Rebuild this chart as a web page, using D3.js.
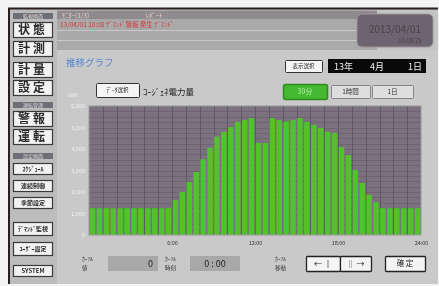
<!DOCTYPE html>
<html>
<head>
<meta charset="utf-8">
<script src="https://cdn.jsdelivr.net/npm/d3@7"></script>
<style>
  body { margin: 0; background: #fff; }
  svg { display: block; filter: blur(0.45px); }
  text { font-family: "Noto Sans CJK JP", "Noto Sans", sans-serif; }
</style>
</head>
<body>
<svg width="439" height="286"></svg>
<script>
// half-hour slots 0:00 .. 23:30
const slots = d3.range(48)
const power = [
  1250, 1250, 1250, 1250, 1250, 1250, 1250, 1250, 1250, 1250, 1250, 1250,
  1630, 2000, 2470, 2930, 3520, 4060, 4580, 4790, 5020, 5250, 5350, 5440,
  4280, 4280, 5440, 5350, 5260, 5350, 5440, 5260, 5120, 4980, 4790, 4740,
  4090, 3720, 3020, 2420, 1860, 1530, 1250, 1250, 1250, 1250, 1250, 1250
]
const yTicks = [0, 1000, 2000, 3000, 4000, 5000, 6000]
const hourTicks = [6, 12, 18, 24]
const menu = [
  { label: '状態', y: 22, h: 15, big: true },
  { label: '計測', y: 41, h: 15, big: true },
  { label: '計量', y: 62, h: 15, big: true },
  { label: '設定', y: 80, h: 15, big: true },
  { label: '警報', y: 111, h: 15, big: true },
  { label: '運転', y: 129, h: 15, big: true },
  { label: 'ｽｹｼﾞｭｰﾙ', y: 163, h: 11 },
  { label: '連続制御', y: 180, h: 11 },
  { label: '季節設定', y: 197, h: 11 },
  { label: 'ﾃﾞﾏﾝﾄﾞ監視', y: 222, h: 13 },
  { label: 'ﾕｰｻﾞｰ設定', y: 242, h: 13 },
  { label: 'SYSTEM', y: 265, h: 11 }
]
const menuHeads = [
  { label: '監視画面', y: 13 },
  { label: '運転管理', y: 102 },
  { label: '設定画面', y: 153 }
]
const periods = ['30分', '1時間', '1日']

const svg = d3.select('svg')

// frame
svg.append('rect').attr('x', 0).attr('y', 0).attr('width', 439).attr('height', 286).attr('fill', '#f4f4f4')
svg.append('rect').attr('x', 8).attr('y', 8).attr('width', 430).attr('height', 276).attr('fill', '#bcbcbc')
svg.append('line').attr('x1', 8).attr('x2', 438).attr('y1', 8.5).attr('y2', 8.5).attr('stroke', '#2a1e1e').attr('stroke-width', 2)
svg.append('line').attr('x1', 9).attr('x2', 9).attr('y1', 8).attr('y2', 284).attr('stroke', '#2a1e1e').attr('stroke-width', 2)

// left menu
const side = svg.append('g')
menuHeads.forEach(d => {
  side.append('rect').attr('x', 13).attr('y', d.y).attr('width', 40).attr('height', 6).attr('fill', '#6e6e76')
  side.append('text').attr('x', 33).attr('y', d.y + 5).attr('text-anchor', 'middle')
    .attr('font-size', 5).attr('fill', '#ddd').text(d.label)
})
menu.forEach(d => {
  side.append('rect').attr('x', 13.5).attr('y', d.y + 0.5).attr('width', 39).attr('height', d.h)
    .attr('fill', '#f2f2f2').attr('stroke', '#3a3a3a').attr('stroke-width', 1.2)
  side.append('text').attr('x', 33).attr('y', d.y + d.h / 2 + (d.big ? 4.5 : 2.5)).attr('text-anchor', 'middle')
    .attr('font-size', d.big ? 12 : 6).attr('font-weight', 'bold')
    .attr('letter-spacing', d.big ? 3 : 0)
    .attr('fill', '#2a2a2a').text(d.label)
})

// top header
const head = svg.append('g')
head.append('rect').attr('x', 57).attr('y', 10).attr('width', 320).attr('height', 40).attr('fill', '#a9a9a9')
head.append('rect').attr('x', 57).attr('y', 11).attr('width', 320).attr('height', 8).attr('fill', '#8e8a8e')
head.append('text').attr('x', 62).attr('y', 17.5).attr('font-size', 6.5).attr('fill', '#e8c8d0').text('ﾓﾆﾀｰ(1/3)')
head.append('text').attr('x', 146).attr('y', 17.5).attr('font-size', 6.5).attr('fill', '#e8c8d0').text('ﾚﾎﾟｰﾄ')
head.append('text').attr('x', 60).attr('y', 27).attr('font-size', 6.5).attr('fill', '#d23a3a').text('13/04/01 10:08 ﾃﾞﾏﾝﾄﾞ警報 発生 ﾃﾞﾏﾝﾄﾞ')
head.append('rect').attr('x', 57).attr('y', 30).attr('width', 320).attr('height', 1).attr('fill', '#c8c8c8')
head.append('rect').attr('x', 57).attr('y', 40).attr('width', 320).attr('height', 1).attr('fill', '#c8c8c8')
head.append('rect').attr('x', 377).attr('y', 10).attr('width', 61).attr('height', 40).attr('fill', '#c4c4c4')
head.append('rect').attr('x', 357).attr('y', 14).attr('width', 76).attr('height', 33).attr('rx', 5)
  .attr('fill', '#6c6470').attr('stroke', '#9a949a')
head.append('text').attr('x', 395).attr('y', 33).attr('text-anchor', 'middle').attr('font-size', 10)
  .attr('fill', '#4a4248').text('2013/04/01')
head.append('text').attr('x', 410).attr('y', 43).attr('text-anchor', 'middle').attr('font-size', 6)
  .attr('fill', '#4a4248').text('10:08:25')

// main panel
const panel = svg.append('g')
panel.append('rect').attr('x', 57).attr('y', 50).attr('width', 381).attr('height', 234).attr('fill', '#c9c9c9')
panel.append('text').attr('x', 66).attr('y', 66).attr('font-size', 9.5).attr('fill', '#5b86d0').text('推移グラフ')

function button (x, y, w, h, label, opt = {}) {
  panel.append('rect').attr('x', x + 0.5).attr('y', y + 0.5).attr('width', w).attr('height', h).attr('rx', opt.rx || 1)
    .attr('fill', opt.fill || '#f4f4f4').attr('stroke', opt.stroke || '#333').attr('stroke-width', opt.sw || 1)
  panel.append('text').attr('x', x + w / 2).attr('y', y + h / 2 + (opt.fs || 6) * 0.38).attr('text-anchor', 'middle')
    .attr('font-size', opt.fs || 6).attr('fill', opt.color || '#222').text(label)
}

button(285, 60, 37, 12, '表示選択', { fs: 5.5 })
panel.append('rect').attr('x', 328).attr('y', 59).attr('width', 98).attr('height', 14).attr('fill', '#0a0a0a')
panel.append('text').attr('x', 334).attr('y', 70).attr('font-size', 9).attr('fill', '#f0f0f0').text('13年')
panel.append('text').attr('x', 370).attr('y', 70).attr('font-size', 9).attr('fill', '#f0f0f0').text('4月')
panel.append('text').attr('x', 408).attr('y', 70).attr('font-size', 9).attr('fill', '#f0f0f0').text('1日')

panel.append('text').attr('x', 68).attr('y', 97).attr('font-size', 5).attr('fill', '#eee').text('kWh')
button(96, 83, 43, 14, 'ﾃﾞｰﾀ選択', { fs: 5.5 })
panel.append('text').attr('x', 143).attr('y', 95).attr('font-size', 8.5).attr('fill', '#222').text('ｺｰｼﾞｪﾈ電力量')

periods.forEach((p, i) => {
  const x = [283, 331, 372][i], w = [44, 39, 41][i]
  if (i === 0) {
    button(x, 84, w, 15, p, { fill: '#44b830', stroke: '#2e8a20', color: '#b8f0a8', rx: 2, fs: 7, sw: 1.5 })
  } else {
    button(x, 85, w, 13, p, { fill: '#dedede', stroke: '#888', color: '#333', fs: 6.5 })
  }
})

// chart
const pLeft = 89, pRight = 421, pTop = 106, pBottom = 235

const xBand = d3.scaleBand().domain(slots).range([pLeft, pRight]).paddingInner(0.2).paddingOuter(0.1)
const xHour = d3.scaleLinear().domain([0, 24]).range([pLeft, pRight])
const y = d3.scaleLinear().domain([0, 6000]).range([pBottom, pTop])

const chart = svg.append('g')
chart.append('rect').attr('x', pLeft).attr('y', pTop).attr('width', pRight - pLeft).attr('height', pBottom - pTop)
  .attr('fill', '#7b717f')

chart.append('g').selectAll('line').data(d3.range(250, 6000, 250)).join('line')
  .attr('x1', pLeft).attr('x2', pRight)
  .attr('y1', d => Math.round(y(d)) + 0.5).attr('y2', d => Math.round(y(d)) + 0.5)
  .attr('stroke', '#6b6270').attr('stroke-width', 0.8)
chart.append('g').selectAll('line').data(d3.range(1, 24)).join('line')
  .attr('y1', pTop).attr('y2', pBottom)
  .attr('x1', d => Math.round(xHour(d)) + 0.5).attr('x2', d => Math.round(xHour(d)) + 0.5)
  .attr('stroke', '#605866').attr('stroke-width', 1)

chart.append('g').selectAll('rect').data(power).join('rect')
  .attr('x', (d, i) => xBand(i))
  .attr('width', xBand.bandwidth())
  .attr('y', d => y(d))
  .attr('height', d => y(0) - y(d))
  .attr('fill', '#52c22c')

chart.append('rect').attr('x', pLeft).attr('y', pTop).attr('width', pRight - pLeft).attr('height', pBottom - pTop)
  .attr('fill', 'none').attr('stroke', '#9a9a9a')

// y axis
const yAxis = chart.append('g').attr('transform', `translate(${pLeft - 2},0)`)
  .call(d3.axisLeft(y).tickValues(yTicks).tickSize(0).tickPadding(2))
yAxis.select('.domain').remove()
yAxis.selectAll('text').attr('font-size', 5.5).attr('fill', '#f2f2f2')
  .attr('font-family', '"DejaVu Sans", sans-serif')

// x axis
const xAxis = chart.append('g').attr('transform', `translate(0,${pBottom + 3})`)
  .call(d3.axisBottom(xHour).tickValues(hourTicks).tickSize(0).tickFormat(d => d + ':00'))
xAxis.select('.domain').remove()
xAxis.selectAll('text').attr('font-size', 5.5).attr('fill', '#333')
  .attr('font-family', '"DejaVu Sans", sans-serif')

// bottom controls
function label2 (x, l1, l2) {
  panel.append('text').attr('x', x).attr('y', 261).attr('font-size', 5.5).attr('fill', '#333').text(l1)
  panel.append('text').attr('x', x).attr('y', 269.5).attr('font-size', 5.5).attr('fill', '#333').text(l2)
}
label2(82, 'ｶｰｿﾙ', '値')
panel.append('rect').attr('x', 108).attr('y', 256).attr('width', 50).attr('height', 15).attr('fill', '#a8a8a8')
panel.append('text').attr('x', 153).attr('y', 267).attr('text-anchor', 'end').attr('font-size', 9).attr('fill', '#222').text('0')
label2(165, 'ｶｰｿﾙ', '時刻')
panel.append('rect').attr('x', 190).attr('y', 256).attr('width', 50).attr('height', 15).attr('fill', '#a8a8a8')
panel.append('text').attr('x', 215).attr('y', 267).attr('text-anchor', 'middle').attr('font-size', 9).attr('fill', '#222').text('0 : 00')
label2(275, 'ｶｰｿﾙ', '移動')
button(306, 256, 34, 15, '← ‖', { fs: 8, stroke: '#222', sw: 1.3 })
button(340, 256, 31, 15, '‖ →', { fs: 8, stroke: '#222', sw: 1.3 })
button(385, 256, 40, 15, '確 定', { fs: 7.5, stroke: '#222', sw: 1.3 })
</script>
</body>
</html>
